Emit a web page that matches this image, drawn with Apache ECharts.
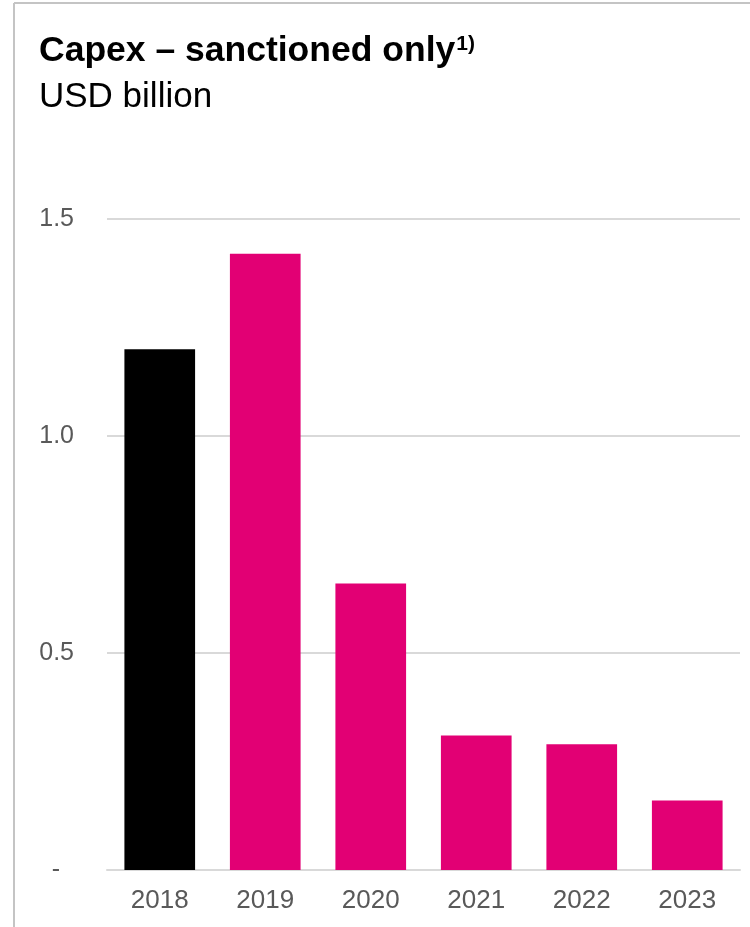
<!DOCTYPE html>
<html>
<head>
<meta charset="utf-8">
<script src="https://cdn.jsdelivr.net/npm/echarts@6/dist/echarts.min.js"></script>
<style>
html,body{margin:0;padding:0;background:#fff;}
#chart{width:750px;height:927px;}
</style>
</head>
<body>
<div id="chart"></div>
<script>
var categories = ['2018', '2019', '2020', '2021', '2022', '2023'];
var capexValues = [1.20, 1.42, 0.66, 0.31, 0.29, 0.16];
var barColors = ['#000000', '#E20074', '#E20074', '#E20074', '#E20074', '#E20074'];
var yTicks = [0, 0.5, 1.0, 1.5];

var chart = echarts.init(document.getElementById('chart'), null, {renderer: 'canvas'});
var font = 'Arial, "Liberation Sans", sans-serif';
chart.setOption({
  animation: false,
  backgroundColor: '#ffffff',
  title: [{
    text: '{b|Capex – sanctioned only}{s|1)}',
    left: 34,
    top: 29,
    textStyle: {
      rich: {
        b: {fontFamily: font, fontWeight: 'bold', fontSize: 35.5, color: '#000', lineHeight: 35},
        s: {fontFamily: font, fontWeight: 'bold', fontSize: 21, color: '#000', verticalAlign: 'top', lineHeight: 35, padding: [0, 0, 0, 1]}
      }
    }
  }, {
    text: 'USD billion',
    left: 34,
    top: 75,
    textStyle: {fontFamily: font, fontWeight: 'normal', fontSize: 35, color: '#000'}
  }],
  graphic: [{
    type: 'line',
    shape: {x1: 14, y1: 3, x2: 750, y2: 3},
    style: {stroke: '#c4c4c4', lineWidth: 2},
    silent: true
  }, {
    type: 'line',
    shape: {x1: 14, y1: 3, x2: 14, y2: 927},
    style: {stroke: '#c4c4c4', lineWidth: 2},
    silent: true
  }],
  grid: {left: 107, right: 10, top: 219, bottom: 57, containLabel: false},
  xAxis: {
    type: 'category',
    data: categories,
    axisLine: {show: true, lineStyle: {color: '#d9d9d9', width: 2}},
    axisTick: {show: false},
    axisLabel: {fontFamily: font, fontSize: 26, color: '#595959', margin: 18}
  },
  yAxis: {
    type: 'value',
    min: 0,
    max: 1.5,
    interval: 0.5,
    axisLine: {show: false},
    axisTick: {show: false},
    splitLine: {lineStyle: {color: '#d9d9d9', width: 2}},
    axisLabel: {
      fontFamily: font, fontSize: 25, color: '#595959', margin: 33,
      formatter: function (v) {
        if (yTicks.indexOf(v) < 0) return '';
        return v === 0 ? '{d|-}' : v.toFixed(1);
      },
      rich: {d: {fontFamily: font, fontSize: 25, color: '#595959', padding: [0, 14, 0, 0]}}
    }
  },
  series: [{
    type: 'bar',
    data: capexValues.map(function (v, i) { return {value: v, itemStyle: {color: barColors[i]}}; }),
    barWidth: '67%'
  }]
});
</script>
</body>
</html>
